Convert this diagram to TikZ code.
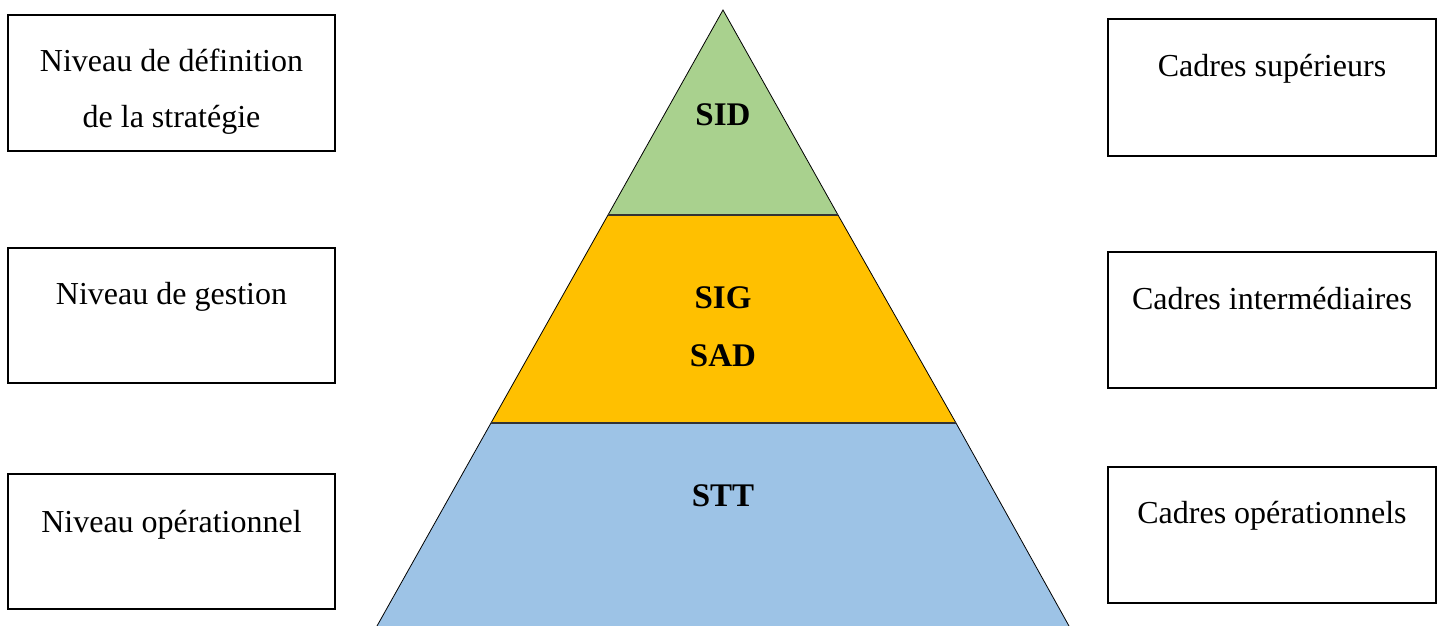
\documentclass[tikz,border=0pt]{standalone}
\usepackage{fontspec}
\setmainfont{Liberation Serif}
\definecolor{sidgreen}{HTML}{A9D18E}
\definecolor{siggold}{HTML}{FFC000}
\definecolor{sttblue}{HTML}{9DC3E6}
\begin{document}
\begin{tikzpicture}[x=0.5pt,y=-0.5pt,
  box/.style={draw=black,line width=0.8pt,fill=none},
  lbl/.style={anchor=base,inner sep=0pt,font=\fontsize{16}{19}\selectfont},
  blbl/.style={anchor=base,inner sep=0pt,font=\fontsize{16.5}{19}\selectfont\bfseries},
  band/.style={draw=black,line width=0.4pt},
  sep/.style={draw=black!80,line width=1.1pt}]
\useasboundingbox (0,0) rectangle (1442,626);
% pyramid
\coordinate (apex) at (723,10);
\coordinate (l1) at (608,215); \coordinate (r1) at (838,215);
\coordinate (l2) at (491,423); \coordinate (r2) at (956,423);
\coordinate (l3) at (377,626); \coordinate (r3) at (1069,626);
\fill[sttblue] (l2) -- (r2) -- (r3) -- (l3) -- cycle;
\draw[band] (l2) -- (l3) (r2) -- (r3);
\fill[siggold] (l1) -- (r1) -- (r2) -- (l2) -- cycle;
\draw[band] (l1) -- (l2) (r1) -- (r2);
\fill[sidgreen] (apex) -- (r1) -- (l1) -- cycle;
\draw[band] (l1) -- (apex) -- (r1);
\draw[sep] (l1) -- (r1);
\draw[sep] (l2) -- (r2);
\node[blbl] (sid) at (723,126) {SID};
\node[blbl] (sig) at (723,308) {SIG};
\node[blbl] (sad) at (723,366) {SAD};
\node[blbl] (stt) at (723,506) {STT};
% left boxes
\node[box,minimum width=163.5pt,minimum height=68pt,inner sep=0pt] (lb1) at (171.5,83) {};
\node[box,minimum width=163.5pt,minimum height=67.5pt,inner sep=0pt] (lb2) at (171.5,315.5) {};
\node[box,minimum width=163.5pt,minimum height=67.5pt,inner sep=0pt] (lb3) at (171.5,541.5) {};
\node[lbl] (lt1a) at (171.5,72) {Niveau de définition};
\node[lbl] (lt1b) at (171.5,128) {de la stratégie};
\node[lbl] (lt2) at (171.5,305) {Niveau de gestion};
\node[lbl] (lt3) at (171.5,532) {Niveau opérationnel};
% right boxes
\node[box,minimum width=164pt,minimum height=68.5pt,inner sep=0pt] (rb1) at (1272,87.5) {};
\node[box,minimum width=164pt,minimum height=68pt,inner sep=0pt] (rb2) at (1272,320) {};
\node[box,minimum width=164pt,minimum height=68pt,inner sep=0pt] (rb3) at (1272,535) {};
\node[lbl] (rt1) at (1272,77) {Cadres supérieurs};
\node[lbl] (rt2) at (1272,309) {Cadres intermédiaires};
\node[lbl] (rt3) at (1272,523) {Cadres opérationnels};
\end{tikzpicture}
\end{document}
